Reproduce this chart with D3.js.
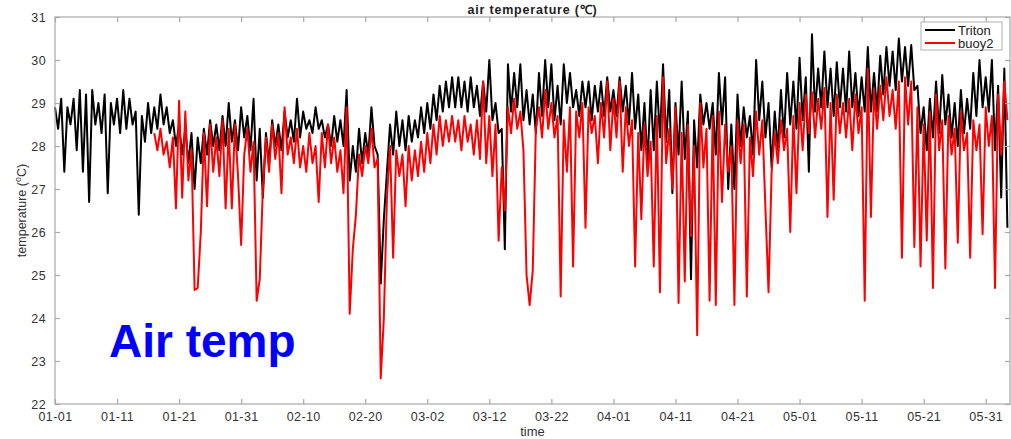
<!DOCTYPE html>
<html>
<head>
<meta charset="utf-8">
<script src="https://cdn.jsdelivr.net/npm/d3@7"></script>
<style>
	body { margin: 0; background: #fff; }
	svg { display: block; font-family: "Liberation Sans", Arial, sans-serif; }
	.tick_lbl { fill: #333; font-size: 12.5px; letter-spacing: 0.4px; }
</style>
</head>
<body>
<svg id="chart" width="1011" height="439"></svg>
<script>
// half-day samples (day max, day min), day 0 = 01-01
const tritonStart = 0;
const tritonTemp = [
	28.9,28.4, 29.1,27.4, 28.9,28.5, 29.1,27.9, 29.3,27.4, 29.2,26.7, 29.3,28.5, 29.0,28.3, 29.2,26.9, 29.0,28.5,
	29.1,28.3, 29.3,28.4, 29.1,28.5, 28.8,26.4, 28.7,28.1, 29.0,28.3, 28.9,28.4, 29.2,28.5, 28.9,28.3, 28.6,28.0,
	28.5,27.8, 28.4,27.6, 28.3,27.0, 28.2,27.6, 28.4,27.8, 28.6,28.0, 28.5,27.9, 28.7,28.0, 29.0,28.1, 28.6,27.9,
	28.9,28.2, 28.7,27.9, 29.1,27.2, 28.4,26.8, 28.3,27.6, 28.6,28.0, 28.5,27.9, 28.8,28.2, 28.6,28.1, 29.1,28.2,
	28.8,28.4, 28.6,28.3, 28.9,28.4, 28.6,28.2, 28.5,28.0, 28.7,28.1, 28.6,28.0, 29.3,27.2, 28.0,27.4, 28.4,27.6,
	28.3,27.8, 28.9,28.0, 27.8,24.8, 26.3,27.4, 28.5,27.8, 28.8,28.0, 28.6,27.9, 28.7,28.1, 28.6,28.2, 28.9,28.3,
	29.0,28.4, 29.2,28.6, 29.4,28.8, 29.5,28.9, 29.6,28.9, 29.6,28.9, 29.5,28.8, 29.6,28.9, 29.4,28.7, 29.5,28.8,
	30.0,28.6, 29.0,28.3, 28.4,25.6, 29.9,28.8, 29.7,28.9, 29.9,28.6, 29.3,28.5, 29.2,28.3, 29.7,28.7, 30.0,28.9,
	29.9,28.6, 29.4,28.5, 29.9,29.0, 29.7,28.9, 29.3,28.7, 29.5,28.9, 29.5,28.6, 29.4,28.8, 29.5,28.7, 29.6,28.8,
	29.3,28.7, 29.6,28.8, 29.4,28.5, 29.7,28.4, 29.2,27.9, 29.0,27.6, 29.3,27.9, 29.5,28.2, 29.9,28.1, 29.3,26.9,
	29.0,27.8, 29.5,27.7, 28.8,24.9, 28.6,27.5, 29.2,28.5, 29.0,28.4, 29.0,27.8, 29.7,28.5, 29.6,27.0, 28.5,27.0,
	29.2,28.0, 28.9,28.2, 28.7,27.8, 30.0,28.6, 29.5,28.2, 29.0,27.5, 28.8,27.9, 29.3,28.2, 29.7,28.5, 29.5,28.4,
	30.05,28.6, 29.6,27.4, 30.6,28.8, 29.8,28.9, 30.2,28.9, 29.8,28.7, 29.95,28.9, 29.8,28.8, 30.2,28.9, 29.7,28.7,
	29.6,28.8, 30.3,28.8, 29.7,28.8, 30.1,29.2, 30.3,29.4, 30.2,29.3, 30.5,29.5, 30.3,29.4, 30.35,29.3, 29.4,28.3,
	28.9,27.9, 29.1,28.2, 29.5,28.3, 29.65,28.5, 29.2,28.2, 29.0,28.0, 29.3,28.3, 29.1,28.4, 29.7,28.7, 30.0,28.9,
	29.6,28.8, 30.0,27.9, 29.4,26.8, 29.8,26.1
];

const buoyStart = 16;
const buoyTemp = [
	28.3,27.9, 28.4,27.8, 28.1,27.5, 28.2,26.55,
	29.05,26.8, 28.8,27.2, 27.9,24.65, 24.7,26.0, 28.3,26.6, 28.5,27.4, 28.2,27.3, 28.6,26.55, 28.4,26.55, 28.5,27.3,
	25.7,27.8, 28.4,27.4, 28.1,24.4, 24.9,27.0, 28.2,27.4, 28.5,27.7, 28.3,26.9, 28.9,27.8, 28.2,27.6, 28.4,27.5,
	28.0,27.4, 28.3,27.6, 28.0,26.7, 28.3,27.5, 28.5,27.6, 28.2,27.4, 27.9,26.9, 28.9,24.1, 25.6,26.4, 27.8,27.3,
	28.0,27.6, 28.4,27.5, 27.7,22.6, 24.0,26.8, 28.0,25.4, 27.9,27.3, 27.8,26.6, 28.0,27.2, 27.9,27.3, 28.1,27.4,
	28.3,27.6, 28.5,27.8, 28.7,28.0, 28.6,28.1, 28.7,28.1, 28.6,27.9, 28.7,28.1, 28.5,27.8, 28.6,27.7, 29.5,27.6,
	28.7,27.3, 28.5,25.8, 27.5,26.5, 28.9,28.3, 29.1,28.4, 28.8,27.9, 25.0,24.3, 25.1,28.4, 28.9,28.2, 29.3,28.4,
	29.0,28.2, 28.7,24.5, 28.6,27.4, 28.9,25.2, 28.8,28.2, 29.0,26.1, 28.9,28.3, 28.7,27.6, 29.0,28.2, 29.5,27.9,
	29.1,28.2, 29.5,27.4, 28.9,28.0, 28.6,25.2, 28.3,26.3, 28.5,27.3, 28.1,25.2, 28.7,24.6, 29.6,27.6, 28.4,27.0,
	28.9,24.35, 28.3,24.85, 28.5,25.9, 28.0,23.6, 29.0,27.5, 28.4,24.4, 28.7,24.3, 28.8,26.7, 28.5,27.4, 28.0,24.3,
	28.6,27.6, 28.5,24.5, 28.2,27.3, 28.8,27.8, 28.6,26.55, 24.6,27.4, 28.3,27.6, 28.6,27.9, 28.4,26.0, 28.7,26.9,
	29.0,27.9, 29.2,28.3, 29.25,28.2, 29.1,28.4, 29.35,26.35, 29.0,26.75, 29.2,28.3, 29.0,28.2, 29.1,27.9, 29.2,28.3,
	28.9,24.4, 29.8,26.35, 29.3,28.4, 29.4,28.6, 29.6,28.7, 29.3,28.4, 29.5,25.4, 29.6,28.5, 29.5,25.65, 28.9,25.2,
	28.5,25.8, 28.8,24.7, 29.2,27.9, 28.6,25.15, 28.7,27.8, 28.4,25.75, 28.8,27.9, 28.3,25.4, 28.6,27.9, 28.5,25.95,
	28.9,28.0, 28.7,24.7, 29.2,27.8, 29.5,28.6
];

const seriesNames = ['Triton', 'buoy2'];
const seriesColors = ['#000000', '#ff0000'];
const tickDays = [0, 10, 20, 30, 40, 50, 60, 70, 80, 90, 100, 110, 120, 130, 140, 150];
const yTicks = [22, 23, 24, 25, 26, 27, 28, 29, 30, 31];

const t0 = new Date(2019, 0, 1);
const dayToDate = d => d3.timeHour.offset(t0, Math.round(d * 24));

function toPoints(start, vals) {
	return vals.map((v, i) => ({t: dayToDate(start + i / 2), v: v}));
}

const svg = d3.select('#chart');
const m = {l: 55, r: 1010, t: 17, b: 404};

const x = d3.scaleTime()
	.domain([t0, dayToDate(153.9)])
	.range([m.l, m.r]);
const y = d3.scaleLinear()
	.domain([22, 31])
	.range([m.b, m.t]);

// lines, black under red
const line = d3.line()
	.x(d => x(d.t))
	.y(d => y(d.v));

const data = [toPoints(tritonStart, tritonTemp), toPoints(buoyStart, buoyTemp)];

svg.append('g')
	.attr('class', 'g_lines')
	.selectAll('path')
	.data(data).enter()
	.append('path')
	.attr('d', line)
	.attr('fill', 'none')
	.attr('stroke', (d, i) => seriesColors[i])
	.attr('stroke-width', 2)
	.attr('stroke-linejoin', 'round');

// box + inward ticks (matlab style)
const axisCol = '#a8a8a8';
const gAx = svg.append('g').attr('class', 'g_axes');

gAx.append('rect')
	.attr('x', m.l)
	.attr('y', m.t)
	.attr('width', m.r - m.l)
	.attr('height', m.b - m.t)
	.attr('fill', 'none')
	.attr('stroke', axisCol)
	.attr('stroke-width', 1.2);

const xTickVals = tickDays.map(dayToDate);

gAx.append('g')
	.attr('transform', 'translate(0,' + m.b + ')')
	.call(d3.axisBottom(x).tickValues(xTickVals).tickSizeInner(-5).tickSizeOuter(0).tickPadding(8)
		.tickFormat(d3.timeFormat('%m-%d')));
gAx.append('g')
	.attr('transform', 'translate(0,' + m.t + ')')
	.call(d3.axisTop(x).tickValues(xTickVals).tickSizeInner(-5).tickSizeOuter(0).tickFormat(''));
gAx.append('g')
	.attr('transform', 'translate(' + m.l + ',0)')
	.call(d3.axisLeft(y).tickValues(yTicks).tickSizeInner(-5).tickSizeOuter(0).tickPadding(9)
		.tickFormat(d3.format('d')));
gAx.append('g')
	.attr('transform', 'translate(' + m.r + ',0)')
	.call(d3.axisRight(y).tickValues(yTicks).tickSizeInner(-5).tickSizeOuter(0).tickFormat(''));

gAx.selectAll('.domain').remove();
gAx.selectAll('.tick line').attr('stroke', axisCol).attr('stroke-width', 1.2);
gAx.selectAll('.tick text')
	.attr('class', 'tick_lbl')
	.style('font-family', '"Liberation Sans", Arial, sans-serif');

// titles
svg.append('text')
	.attr('x', (m.l + m.r) / 2)
	.attr('y', 14)
	.attr('text-anchor', 'middle')
	.attr('font-size', 12.5)
	.attr('font-weight', 'bold')
	.attr('letter-spacing', 0.8)
	.attr('fill', '#222')
	.text('air temperature (\u2103)');

svg.append('text')
	.attr('x', (m.l + m.r) / 2)
	.attr('y', 436)
	.attr('text-anchor', 'middle')
	.attr('font-size', 13)
	.attr('fill', '#333')
	.text('time');

const yl = svg.append('text')
	.attr('transform', 'translate(26,' + ((m.t + m.b) / 2) + ') rotate(-90)')
	.attr('text-anchor', 'middle')
	.attr('font-size', 12.5)
	.attr('fill', '#333');
yl.append('tspan').text('temperature (');
yl.append('tspan').attr('font-size', 9).attr('dy', -5).text('o');
yl.append('tspan').attr('dy', 5).text('C)');

// legend
const lg = svg.append('g')
	.attr('class', 'g_legend')
	.attr('transform', 'translate(921,22)');
lg.append('rect')
	.attr('width', 81)
	.attr('height', 28)
	.attr('fill', '#fff')
	.attr('stroke', '#b0b0b0')
	.attr('stroke-width', 1);
seriesNames.forEach((name, i) => {
	const ly = 8 + i * 13;
	lg.append('line')
		.attr('x1', 4).attr('x2', 34)
		.attr('y1', ly).attr('y2', ly)
		.attr('stroke', seriesColors[i])
		.attr('stroke-width', 2);
	lg.append('text')
		.attr('x', 37)
		.attr('y', ly + 4.5)
		.attr('font-size', 13)
		.attr('fill', '#222')
		.text(name);
});

// overlay label
svg.append('text')
	.attr('x', 109)
	.attr('y', 357)
	.attr('font-size', 46)
	.attr('font-weight', 'bold')
	.attr('fill', '#0000ff')
	.text('Air temp');
</script>
</body>
</html>
